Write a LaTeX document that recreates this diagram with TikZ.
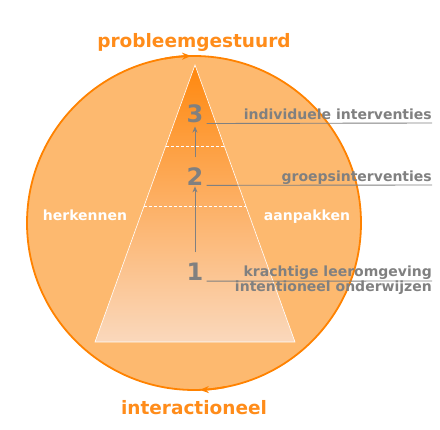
\documentclass[tikz,border=0pt]{standalone}
\usepackage{fontspec}
\setmainfont{DejaVu Sans}
\usetikzlibrary{arrows.meta}
\definecolor{oranje}{RGB}{255,130,0}
\definecolor{titel}{RGB}{255,140,26}
\definecolor{cirkel}{RGB}{253,185,111}
\definecolor{grijs}{RGB}{128,128,128}
\definecolor{piek}{RGB}{255,136,14}
\definecolor{midden}{RGB}{253,172,92}
\definecolor{basis}{RGB}{250,216,188}
\tikzset{
	ring/.style={draw=oranje, line width=1.8pt},
	getal/.style={text=grijs, font=\fontsize{24}{24}\selectfont\bfseries, inner sep=0pt},
	uitleg/.style={text=grijs, font=\fontsize{14}{14}\selectfont\bfseries, inner sep=0pt},
	wit/.style={text=white, font=\fontsize{14}{14}\selectfont\bfseries},
	kop/.style={text=titel, font=\fontsize{18.5}{18.5}\selectfont\bfseries},
	lijn/.style={draw=grijs, line width=0.9pt},
	pijl/.style={draw=grijs, line width=0.9pt, -{Stealth[length=6pt,width=5pt]}}
}
\begin{document}
\begin{tikzpicture}[x=1pt, y=1pt]
	\useasboundingbox (0,0) rectangle (440,430);
	% cirkel
	\coordinate (m) at (194,207);
	\fill[cirkel] (m) circle (167);
	\draw[ring] (m) circle (167);
	\draw[ring, -{Stealth[length=9pt,width=7pt]}] (m) ++(100:167) arc[start angle=100, end angle=91, radius=167];
	\draw[ring, -{Stealth[length=9pt,width=7pt]}] (m) ++(281:167) arc[start angle=281, end angle=272, radius=167];
	% piramide
	\shade[top color=piek, middle color=midden, bottom color=basis] (195,365) -- (295,88) -- (95,88) -- cycle;
	\draw[white, line width=0.6pt] (195,365) -- (295,88) -- (95,88) -- cycle;
	\draw[white, line width=0.7pt, dash pattern=on 3pt off 2pt] (165.8,284) -- (224.2,284);
	\draw[white, line width=0.7pt, dash pattern=on 3pt off 2pt] (144.1,224) -- (245.9,224);
	% niveaus
	\node[getal] (n3) at (195,315.75) {3};
	\node[getal] (n2) at (195,253.75) {2};
	\node[getal] (n1) at (195,157.75) {1};
	\draw[pijl, shorten <=11pt, shorten >=1pt] (n1) -- (n2);
	\draw[pijl, shorten <=10pt, shorten >=3pt] (n2) -- (n3);
	% uitleg
	\node[uitleg, anchor=base east] (l3) at (432,310) {individuele interventies};
	\node[uitleg, anchor=base east] (l2) at (432,248) {groepsinterventies};
	\node[uitleg, anchor=base east] (l1a) at (432,153) {krachtige leeromgeving};
	\node[uitleg, anchor=base east] (l1b) at (432,138) {intentioneel onderwijzen};
	\draw[lijn] ([xshift=3pt]n3.south east) -- ([yshift=-3pt]l3.base east);
	\draw[lijn] ([xshift=3pt]n2.south east) -- ([yshift=-3pt]l2.base east);
	\draw[lijn] ([xshift=3pt]n1.south east) -- ([yshift=-4pt]l1a.base east);
	% teksten
	\node[wit] (herk) at (85,215) {herkennen};
	\node[wit] (aanp) at (307,213) {aanpakken};
	\node[kop] (boven) at (194,388) {probleemgestuurd};
	\node[kop] (onder) at (194,22) {interactioneel};
\end{tikzpicture}
\end{document}
